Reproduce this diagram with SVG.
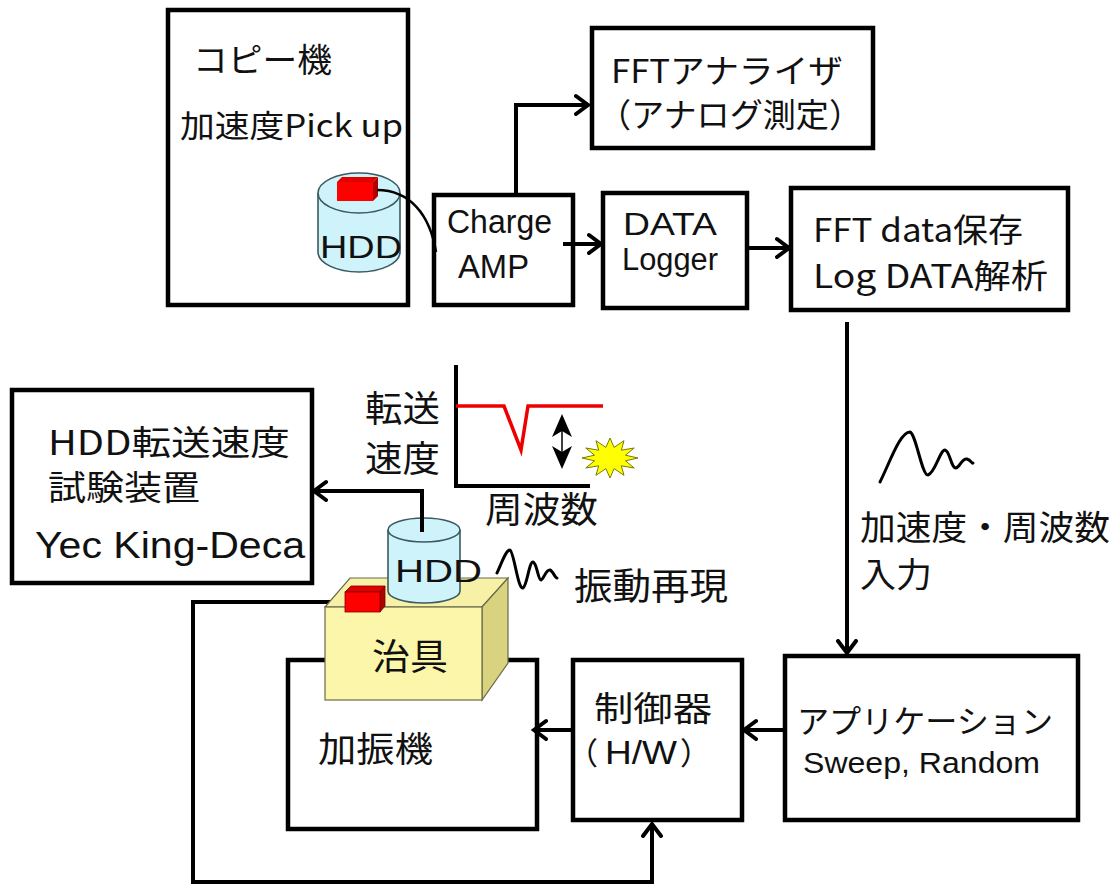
<svg xmlns="http://www.w3.org/2000/svg" width="1116" height="887" viewBox="0 0 1116 887">
  <style>
    .box { fill: #ffffff; stroke: #000000; stroke-width: 4.5; }
    .wire { fill: none; stroke: #000000; stroke-width: 4; }
    .t { font-family: "Liberation Sans", "Noto Sans CJK JP", sans-serif; fill: #111111; }
    .j { font-family: "Noto Sans CJK JP", "Liberation Sans", sans-serif; fill: #111111; }
    .cyl { fill: #cff3fa; stroke: #3a5a60; stroke-width: 1.6; }
    .wave { fill: none; stroke: #000000; stroke-width: 3; stroke-linejoin: round; stroke-linecap: round; }
  </style>
  <defs>
    <marker id="arr" markerUnits="userSpaceOnUse" markerWidth="24" markerHeight="24" refX="14" refY="10" orient="auto" viewBox="0 0 24 20">
      <path d="M2,1 L14,10 L2,19" fill="none" stroke="#000" stroke-width="4" stroke-linecap="round" stroke-linejoin="miter"/>
    </marker>
  </defs>

  <rect width="1116" height="887" fill="#ffffff"/>

  <!-- copier with pickup -->
  <g id="copier">
    <rect class="box" x="168" y="10" width="240" height="295"/>
    <text class="j" x="193" y="72" font-size="33" textLength="139" lengthAdjust="spacingAndGlyphs">コピー機</text>
    <text class="j" x="180" y="137" font-size="31" textLength="223" lengthAdjust="spacingAndGlyphs">加速度Pick up</text>
  </g>

  <g id="hdd-top">
    <path class="cyl" d="M318,193 L318,252 A41,20 0 0 0 400,252 L400,193"/>
    <ellipse class="cyl" cx="359" cy="193" rx="41" ry="20"/>
    <!-- pickup sensor -->
    <polygon points="337,182 342,177 378,177 373,182" fill="#e00000"/>
    <polygon points="373,182 378,177 378,196 373,201" fill="#b00000"/>
    <rect x="337" y="182" width="36" height="19" fill="#ff0000"/>
    <text class="t" x="320" y="258" font-size="32" textLength="82" lengthAdjust="spacingAndGlyphs">HDD</text>
  </g>

  <g id="charge-amp">
    <rect class="box" x="434" y="195" width="139" height="110"/>
    <text class="t" x="447" y="233" font-size="33" textLength="105" lengthAdjust="spacingAndGlyphs">Charge</text>
    <text class="t" x="458" y="278" font-size="33" textLength="71" lengthAdjust="spacingAndGlyphs">AMP</text>
  </g>

  <g id="fft-analyzer">
    <rect class="box" x="592" y="28" width="281" height="120"/>
    <text class="j" x="611" y="83" font-size="33" textLength="232" lengthAdjust="spacingAndGlyphs">FFTアナライザ</text>
    <text class="j" x="598" y="127" font-size="33" textLength="264" lengthAdjust="spacingAndGlyphs">（アナログ測定）</text>
  </g>

  <g id="data-logger">
    <rect class="box" x="603" y="193" width="144" height="115"/>
    <text class="t" x="623" y="235" font-size="31" textLength="94" lengthAdjust="spacingAndGlyphs">DATA</text>
    <text class="t" x="622" y="270" font-size="31" textLength="96" lengthAdjust="spacingAndGlyphs">Logger</text>
  </g>

  <g id="fft-data">
    <rect class="box" x="791" y="188" width="277" height="122"/>
    <text class="j" x="813" y="242" font-size="33" textLength="210" lengthAdjust="spacingAndGlyphs">FFT data保存</text>
    <text class="j" x="813" y="288" font-size="33" textLength="235" lengthAdjust="spacingAndGlyphs">Log DATA解析</text>
  </g>

  <g id="application">
    <rect class="box" x="785" y="656" width="293" height="164"/>
    <text class="j" x="797" y="733" font-size="32" textLength="256" lengthAdjust="spacingAndGlyphs">アプリケーション</text>
    <text class="t" x="803" y="773" font-size="30" textLength="237" lengthAdjust="spacingAndGlyphs">Sweep, Random</text>
  </g>

  <g id="controller">
    <rect class="box" x="573" y="660" width="169" height="160"/>
    <text class="j" x="594" y="721" font-size="34" textLength="118" lengthAdjust="spacingAndGlyphs">制御器</text>
    <text class="j" y="764" font-size="31"><tspan x="567">（</tspan><tspan class="t" x="605" font-size="33" textLength="72" lengthAdjust="spacingAndGlyphs">H/W</tspan><tspan x="680">）</tspan></text>
  </g>

  <g id="shaker">
    <rect class="box" x="288" y="660" width="249" height="169"/>
    <text class="j" x="318" y="762" font-size="35" textLength="115" lengthAdjust="spacingAndGlyphs">加振機</text>
  </g>

  <g id="tester">
    <rect class="box" x="12" y="390" width="300" height="193"/>
    <text class="j" x="48" y="455" font-size="34" textLength="242" lengthAdjust="spacingAndGlyphs">HDD転送速度</text>
    <text class="j" x="48" y="500" font-size="34" textLength="152" lengthAdjust="spacingAndGlyphs">試験装置</text>
    <text class="t" x="35" y="558" font-size="36" textLength="270" lengthAdjust="spacingAndGlyphs">Yec King-Deca</text>
  </g>

  <!-- connectors -->
  <g id="connectors">
    <path d="M377,190 C410,190 430,215 436,252" fill="none" stroke="#000" stroke-width="2.5"/>
    <path class="wire" d="M516,195 L516,105 L588,105" marker-end="url(#arr)"/>
    <path class="wire" d="M563,244 L601,244" marker-end="url(#arr)"/>
    <path class="wire" d="M747,248 L789,248" stroke-width="7" marker-end="url(#arr)"/>
    <path class="wire" d="M847,322 L847,653" marker-end="url(#arr)"/>
    <path class="wire" d="M785,730 L744,730" marker-end="url(#arr)"/>
    <path class="wire" d="M573,730 L534,730" marker-end="url(#arr)"/>
    <path class="wire" d="M422,532 L422,491 L314,491" marker-end="url(#arr)"/>
    <path class="wire" d="M345,602 L193,602 L193,882 L652,882 L652,824" marker-end="url(#arr)"/>
  </g>

  <!-- fixture block with HDD and sensor -->
  <g id="fixture">
    <polygon points="325,607 482,607 508,578 350,578" fill="#f7f1a8" stroke="#6b6b4a" stroke-width="1.2"/>
    <polygon points="482,607 508,578 508,663 482,700" fill="#d9d37f" stroke="#6b6b4a" stroke-width="1.2"/>
    <rect x="325" y="607" width="157" height="93" fill="#fbf6a9" stroke="#6b6b4a" stroke-width="1.2"/>
    <text class="j" x="372" y="670" font-size="36" textLength="76" lengthAdjust="spacingAndGlyphs">治具</text>
  </g>

  <g id="hdd-fixture">
    <path class="cyl" d="M388,530 L388,591 A36,12 0 0 0 460,591 L460,530"/>
    <ellipse class="cyl" cx="424" cy="530" rx="36" ry="12"/>
    <line x1="422" y1="492" x2="422" y2="532" stroke="#000" stroke-width="4"/>
    <text class="t" x="395" y="582" font-size="32" textLength="87" lengthAdjust="spacingAndGlyphs">HDD</text>
  </g>

  <g id="sensor">
    <polygon points="345,592 351,586 385,586 380,592" fill="#e00000" stroke="#7a0000" stroke-width="0.8"/>
    <polygon points="380,592 385,586 385,606 380,612" fill="#b00000" stroke="#7a0000" stroke-width="0.8"/>
    <rect x="345" y="592" width="35" height="20" fill="#ff0000" stroke="#7a0000" stroke-width="0.8"/>
  </g>

  <!-- vibration waves -->
  <path class="wave" d="M497,573 C502,562 506,550 510,550 C514,552 518,590 523,588 C527,586 529,562 533,562 C537,563 538,580 541,580 C544,579 546,569 550,570 C553,571 555,578 557,578"/>
  <text class="j" x="574" y="600" font-size="37" textLength="154" lengthAdjust="spacingAndGlyphs">振動再現</text>

  <path class="wave" d="M880,482 C890,462 900,432 910,432 C916,434 922,476 928,475 C935,473 940,450 945,450 C950,451 951,468 956,468 C960,467 962,458 967,459 C971,460 972,464 973,463"/>

  <!-- transfer rate chart -->
  <g id="chart">
    <path d="M456,365 L456,486 L590,486" fill="none" stroke="#000" stroke-width="4"/>
    <path d="M456,406 L504,406 L521,450 L528,406 L603,406" fill="none" stroke="#ee0000" stroke-width="3.5" stroke-linejoin="miter"/>
    <line x1="562" y1="425" x2="562" y2="458" stroke="#000" stroke-width="1.5"/>
    <polygon points="562,414 572,437 562,431 552,437" fill="#000"/>
    <polygon points="562,469 572,446 562,452 552,446" fill="#000"/>
    <polygon fill="#ffff00" stroke="#7a7a00" stroke-width="1" points="638,458 625.5,460.8 634.2,468 621.3,465.8 624,475.3 614.1,468.6 610,478 605.9,468.6 596,475.3 598.7,465.8 585.8,468 594.5,460.8 582,458 594.5,455.2 585.8,448 598.7,450.2 596,440.7 605.9,447.4 610,438 614.1,447.4 624,440.7 621.3,450.2 634.2,448 625.5,455.2"/>
    <text class="j" x="365" y="422" font-size="36" textLength="75" lengthAdjust="spacingAndGlyphs">転送</text>
    <text class="j" x="365" y="472" font-size="36" textLength="75" lengthAdjust="spacingAndGlyphs">速度</text>
    <text class="j" x="485" y="523" font-size="36" textLength="113" lengthAdjust="spacingAndGlyphs">周波数</text>
  </g>

  <text class="j" x="860" y="540" font-size="34" textLength="250" lengthAdjust="spacingAndGlyphs">加速度・周波数</text>
  <text class="j" x="860" y="587" font-size="34" textLength="72" lengthAdjust="spacingAndGlyphs">入力</text>
</svg>
